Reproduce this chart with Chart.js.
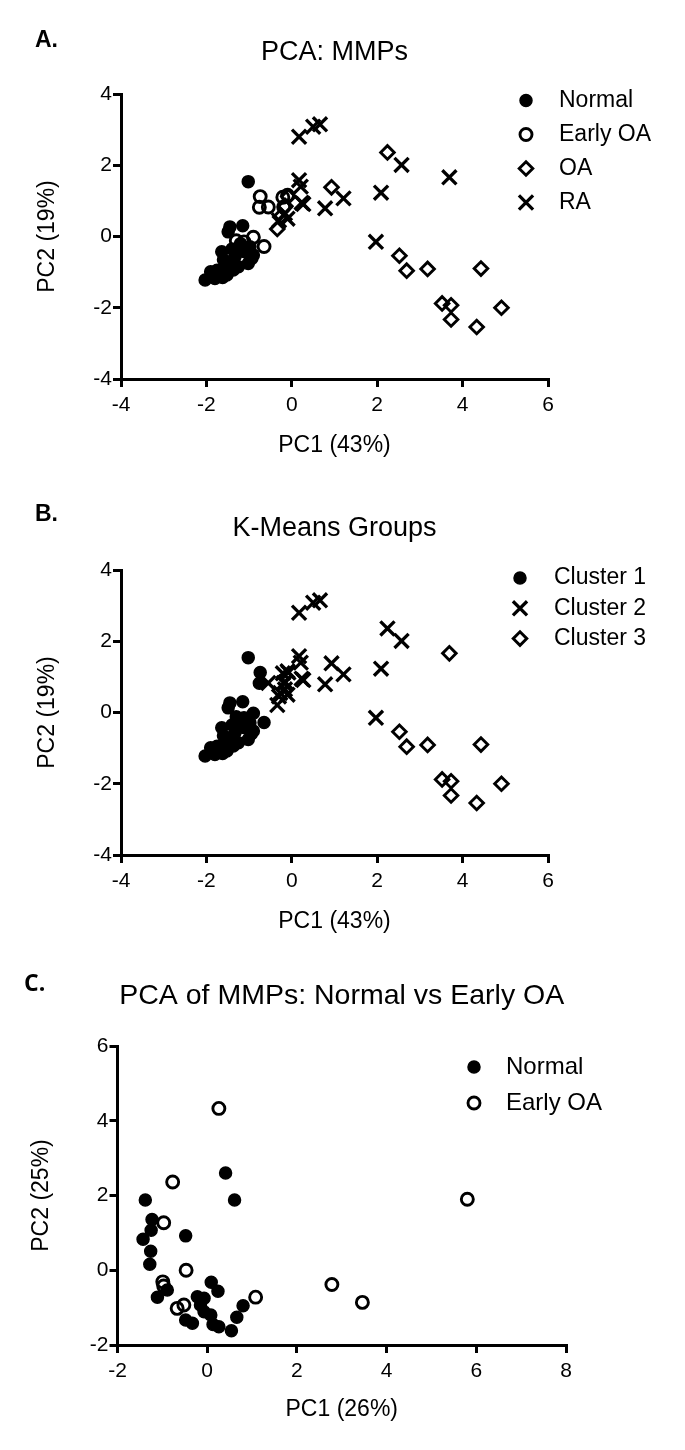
<!DOCTYPE html>
<html><head><meta charset="utf-8">
<script src="https://cdn.jsdelivr.net/npm/chart.js@4.4.1/dist/chart.umd.min.js"></script>
<style>
html,body{margin:0;padding:0;background:#fff;}
body{width:685px;height:1450px;position:relative;overflow:hidden;font-family:"Liberation Sans",Arial,sans-serif;}
canvas{position:absolute;left:0;}
.lab{position:absolute;font-weight:bold;font-size:23px;line-height:26px;color:#000;z-index:2;}
</style></head><body>
<canvas id="cA" width="685" height="476" style="top:0"></canvas>
<canvas id="cB" width="685" height="476" style="top:476px"></canvas>
<canvas id="cC" width="685" height="498" style="top:952px"></canvas>
<div class="lab" style="left:35px;top:26px">A.</div>
<div class="lab" style="left:35px;top:500px">B.</div>
<div class="lab" style="left:24px;top:969px;font-family:'Open Sans'">C.</div>
<script>
const FONT = '"Liberation Sans", Arial, sans-serif';

// Tick labels
const xTicksAB = [-4, -2, 0, 2, 4, 6];
const yTicksAB = [-4, -2, 0, 2, 4];
const xTicksC = [-2, 0, 2, 4, 6, 8];
const yTicksC = [-2, 0, 2, 4, 6];

// Panel A: PCA of MMPs by diagnosis
const normalA = [[-1.02,1.54],[-1.45,0.27],[-1.49,0.13],[-1.15,0.30],[-1.64,-0.43],[-2.03,-1.22],[-1.90,-0.99],[-1.80,-1.18],[-1.68,-1.05],[-1.56,-0.80],[-1.45,-0.71],[-1.33,-0.57],[-1.25,-0.43],[-1.37,-0.94],[-1.52,-1.08],[-1.62,-1.15],[-1.02,-0.76],[-0.90,-0.52],[-0.98,-0.29],[-1.10,-0.43],[-1.25,-0.85],[-1.75,-0.95],[-1.40,-0.35],[-1.20,-0.20],[-1.60,-0.65]];
const earlyA = [[-0.74,1.12],[-0.76,0.82],[-0.55,0.83],[-0.21,1.10],[-0.10,1.16],[-0.19,0.83],[-1.30,-0.12],[-0.90,-0.02],[-0.65,-0.28],[-1.12,-0.15],[-1.05,-0.35],[-0.95,-0.60]];
const oaA = [[2.24,2.36],[0.93,1.38],[2.52,-0.54],[2.69,-0.96],[3.18,-0.91],[4.43,-0.90],[3.52,-1.88],[3.73,-1.93],[3.73,-2.33],[4.33,-2.54],[4.91,-2.00],[-0.34,0.21],[-0.27,0.55],[-0.08,1.12],[-0.15,0.85]];
const raA = [[0.17,2.80],[0.50,3.08],[0.66,3.15],[2.57,2.01],[3.69,1.66],[2.09,1.23],[1.21,1.07],[0.78,0.79],[1.97,-0.15],[0.17,1.58],[0.21,1.40],[0.23,0.95],[0.27,0.91],[-0.30,0.45],[-0.10,0.50],[-0.16,0.65]];

// Panel B: K-means clusters
const cluster1B = [[-1.02,1.54],[-1.45,0.27],[-1.49,0.13],[-1.15,0.30],[-1.64,-0.43],[-2.03,-1.22],[-1.90,-0.99],[-1.80,-1.18],[-1.68,-1.05],[-1.56,-0.80],[-1.45,-0.71],[-1.33,-0.57],[-1.25,-0.43],[-1.37,-0.94],[-1.52,-1.08],[-1.62,-1.15],[-1.02,-0.76],[-0.90,-0.52],[-0.98,-0.29],[-1.10,-0.43],[-1.25,-0.85],[-1.75,-0.95],[-1.40,-0.35],[-1.20,-0.20],[-1.60,-0.65],[-0.74,1.12],[-0.76,0.82],[-1.30,-0.12],[-0.90,-0.02],[-0.65,-0.28],[-1.12,-0.15],[-1.05,-0.35],[-0.95,-0.60]];
const cluster2B = [[0.17,2.80],[0.50,3.08],[0.66,3.15],[2.57,2.01],[2.09,1.23],[1.21,1.07],[0.78,0.79],[1.97,-0.15],[0.17,1.58],[0.21,1.40],[0.23,0.95],[0.27,0.91],[-0.30,0.45],[-0.10,0.50],[-0.16,0.65],[2.24,2.36],[0.93,1.38],[-0.34,0.21],[-0.27,0.55],[-0.08,1.12],[-0.15,0.85],[-0.55,0.83],[-0.21,1.10],[-0.10,1.16],[-0.19,0.83]];
const cluster3B = [[2.52,-0.54],[2.69,-0.96],[3.18,-0.91],[4.43,-0.90],[3.52,-1.88],[3.73,-1.93],[3.73,-2.33],[4.33,-2.54],[4.91,-2.00],[3.69,1.66]];

// Panel C: Normal vs Early OA
const normalC = [[-1.38,1.88],[0.61,1.88],[0.41,2.60],[-1.23,1.36],[-1.25,1.07],[-1.43,0.83],[-0.48,0.92],[-1.26,0.51],[-1.28,0.16],[0.09,-0.32],[0.24,-0.56],[-1.11,-0.72],[-0.89,-0.53],[-0.22,-0.71],[-0.07,-0.75],[-0.15,-0.93],[-0.07,-1.11],[0.08,-1.20],[-0.48,-1.33],[-0.33,-1.42],[0.13,-1.45],[0.26,-1.51],[0.54,-1.62],[0.66,-1.26],[0.80,-0.95]];
const earlyC = [[0.26,4.33],[-0.77,2.36],[-0.97,1.27],[-0.47,0.00],[-0.99,-0.31],[-0.97,-0.42],[-0.52,-0.93],[-0.67,-1.02],[1.08,-0.72],[2.78,-0.38],[3.46,-0.86],[5.80,1.90]];

const toXY = a => a.map(([x, y]) => ({x, y}));

const STY = {
  filled:  {ps: 'circle',   r: 6.0, bw: 1.5, bg: '#000', bc: '#000'},
  open:    {ps: 'circle',   r: 6.0, bw: 2.9, bg: 'rgba(0,0,0,0)', bc: '#000'},
  diamond: {ps: 'rectRot',  r: 6.8, bw: 2.9, bg: 'rgba(0,0,0,0)', bc: '#000'},
  cross:   {ps: 'crossRot', r: 10,  bw: 3.3, bg: '#000', bc: '#000'}
};
function ds(label, arr, s) {
  return {label, data: toXY(arr), pointStyle: s.ps, pointRadius: s.r, pointHoverRadius: s.r,
    pointBorderWidth: s.bw, borderWidth: s.bw, backgroundColor: s.bg, pointBackgroundColor: s.bg,
    borderColor: s.bc, pointBorderColor: s.bc, showLine: false};
}

function drawMarker(ctx, d, x, y) {
  const o = {pointStyle: d.pointStyle, radius: d.pointRadius, borderWidth: d.pointBorderWidth, rotation: 0};
  ctx.fillStyle = d.pointBackgroundColor;
  ctx.strokeStyle = d.pointBorderColor;
  ctx.lineWidth = d.pointBorderWidth;
  if (window.Chart && Chart.helpers && Chart.helpers.drawPoint) {
    Chart.helpers.drawPoint(ctx, o, x, y);
    return;
  }
  const r = d.pointRadius;
  ctx.beginPath();
  if (d.pointStyle === 'circle') { ctx.arc(x, y, r, 0, Math.PI * 2); ctx.fill(); ctx.stroke(); }
  else if (d.pointStyle === 'rectRot') { ctx.moveTo(x - r, y); ctx.lineTo(x, y - r); ctx.lineTo(x + r, y); ctx.lineTo(x, y + r); ctx.closePath(); ctx.stroke(); }
  else { const k = r * Math.SQRT1_2; ctx.moveTo(x - k, y - k); ctx.lineTo(x + k, y + k); ctx.moveTo(x + k, y - k); ctx.lineTo(x - k, y + k); ctx.stroke(); }
}

const insetLegend = {
  id: 'insetLegend',
  afterDraw(chart, args, opts) {
    const ctx = chart.ctx;
    ctx.save();
    chart.data.datasets.forEach((d, i) => {
      const y = opts.y0 + i * opts.dy;
      drawMarker(ctx, d, opts.mx, y);
      ctx.fillStyle = '#000';
      ctx.font = opts.font;
      ctx.textBaseline = 'middle';
      ctx.textAlign = 'left';
      ctx.fillText(d.label, opts.tx, y);
    });
    ctx.restore();
  }
};

function axis(ticksArr, title, fitFn, titlePad) {
  return {
    type: 'linear',
    min: ticksArr[0], max: ticksArr[ticksArr.length - 1],
    afterBuildTicks: s => { s.ticks = ticksArr.map(v => ({value: v})); },
    afterFit: fitFn,
    grid: {display: true, drawOnChartArea: false, drawTicks: true, tickLength: 8, color: '#000', lineWidth: 3},
    border: {display: true, color: '#000', width: 3},
    ticks: {color: '#000', font: {family: FONT, size: 21}, padding: 0, maxRotation: 0, autoSkip: false},
    title: {display: true, text: title, color: '#000', font: {family: FONT, size: 23, lineHeight: 1.2}, padding: titlePad}
  };
}

function makeChart(id, datasets, c) {
  const xAx = axis(c.xTicks, c.xTitle, s => { s.height = c.xH; }, {top: 0, bottom: c.xTitlePadB});
  xAx.position = 'bottom';
  xAx.ticks.padding = 5.8;
  const yAx = axis(c.yTicks, c.yTitle, s => { s.width = c.yW; }, {top: c.yTitlePadT, bottom: 0});
  yAx.position = 'left';
  yAx.ticks.padding = 1;
  return new Chart(document.getElementById(id), {
    type: 'scatter',
    data: {datasets},
    options: {
      responsive: false, animation: false, devicePixelRatio: 1,
      layout: {padding: {left: 0, top: 0, right: c.padRight, bottom: 0}},
      plugins: {
        legend: {display: false},
        tooltip: {enabled: false},
        title: {display: true, text: c.title, fullSize: false, color: '#000',
          font: {family: FONT, size: c.titleSize, weight: 'normal', lineHeight: 1.2},
          padding: {top: c.titlePadT, bottom: c.titlePadB}},
        insetLegend: c.legend
      },
      scales: {x: xAx, y: yAx}
    },
    plugins: [insetLegend]
  });
}

makeChart('cA', [
  ds('Normal', normalA, STY.filled),
  ds('Early OA', earlyA, STY.open),
  ds('OA', oaA, STY.diamond),
  ds('RA', raA, STY.cross)
], {
  title: 'PCA: MMPs', titleSize: 27, titlePadT: 36.8, titlePadB: 24.8,
  xTicks: xTicksAB, yTicks: yTicksAB, xTitle: 'PC1 (43%)', yTitle: 'PC2 (19%)',
  xH: 97, yW: 121, xTitlePadB: 16.2, yTitlePadT: 34.2, padRight: 137,
  legend: {mx: 526, tx: 559, y0: 100.5, dy: 34, font: '23px ' + FONT}
});

makeChart('cB', [
  ds('Cluster 1', cluster1B, STY.filled),
  ds('Cluster 2', cluster2B, STY.cross),
  ds('Cluster 3', cluster3B, STY.diamond)
], {
  title: 'K-Means Groups', titleSize: 27, titlePadT: 36.8, titlePadB: 24.8,
  xTicks: xTicksAB, yTicks: yTicksAB, xTitle: 'PC1 (43%)', yTitle: 'PC2 (19%)',
  xH: 97, yW: 121, xTitlePadB: 16.2, yTitlePadT: 34.2, padRight: 137,
  legend: {mx: 520, tx: 554, y0: 102, dy: 30.3, font: '23px ' + FONT}
});

makeChart('cC', [
  ds('Normal', normalC, STY.filled),
  ds('Early OA', earlyC, STY.open)
], {
  title: 'PCA of MMPs: Normal vs Early OA', titleSize: 28.5, titlePadT: 26.9, titlePadB: 32.9,
  xTicks: xTicksC, yTicks: yTicksC, xTitle: 'PC1 (26%)', yTitle: 'PC2 (25%)',
  xH: 105, yW: 117.5, xTitlePadB: 26.2, yTitlePadT: 27.7, padRight: 119,
  legend: {mx: 474, tx: 506, y0: 115, dy: 36, font: '24px ' + FONT}
});
</script>
</body></html>
